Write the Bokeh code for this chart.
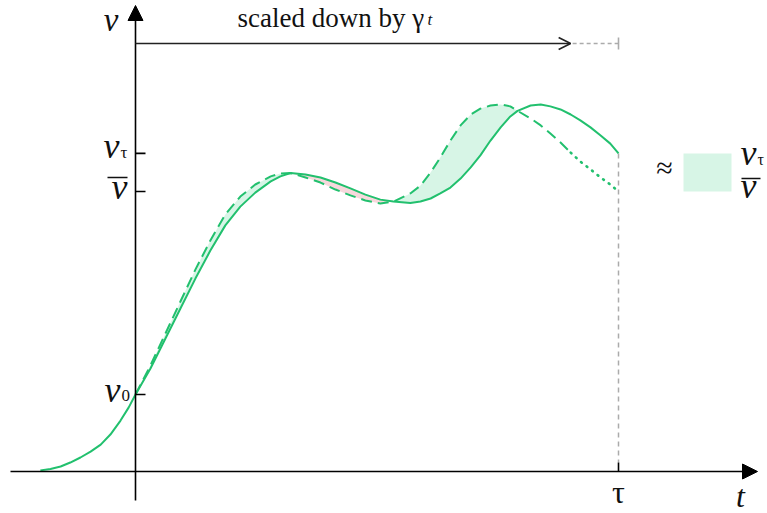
from bokeh.plotting import figure
from bokeh.models import Range1d, Arrow, NormalHead, OpenHead, Label
from bokeh.embed import file_html
from bokeh.resources import INLINE

# ---- data (t in units of tau, v in units of v_bar) ----
tau = 1.0
gamma = 1.11
v0 = 0.275
v_bar = 1.0
v_tau = 1.136

t_left = [-0.197, -0.176, -0.155, -0.135, -0.114, -0.093, -0.072, -0.052, -0.031, -0.014]
v_left = [0.004, 0.009, 0.018, 0.032, 0.050, 0.071, 0.096, 0.132, 0.182, 0.229]

t = [0.000, 0.031, 0.062, 0.093, 0.124, 0.155, 0.186, 0.217, 0.248, 0.280,
     0.300, 0.321, 0.352, 0.383, 0.414, 0.445, 0.476, 0.507, 0.534, 0.569,
     0.590, 0.611, 0.631, 0.652, 0.673, 0.694, 0.714, 0.735, 0.756, 0.776,
     0.791, 0.818, 0.839, 0.859, 0.880, 0.901, 0.921, 0.942, 0.963, 0.983,
     1.000]
v_actual = [0.275, 0.368, 0.475, 0.582, 0.689, 0.789, 0.879, 0.946, 0.996, 1.036,
            1.054, 1.066, 1.061, 1.050, 1.032, 1.011, 0.989, 0.971, 0.964, 0.959,
            0.964, 0.975, 0.993, 1.014, 1.046, 1.086, 1.129, 1.182, 1.229, 1.268,
            1.288, 1.307, 1.311, 1.304, 1.293, 1.275, 1.254, 1.229, 1.200, 1.171,
            1.136]
v_scaled = [0.275, 0.379, 0.493, 0.607, 0.721, 0.825, 0.918, 0.982, 1.025, 1.054,
            1.064, 1.066, 1.050, 1.032, 1.007, 0.986, 0.968, 0.957, 0.964, 0.993,
            1.021, 1.068, 1.121, 1.182, 1.236, 1.275, 1.296, 1.307, 1.311, 1.304,
            1.288, 1.261, 1.236, 1.207, 1.175, 1.139, 1.107, 1.079, 1.050, 1.025,
            1.000]

GREEN = "#22c06e"
FILL_G = "#d7f5e6"
FILL_P = "#f7d8dc"
GREY = "#ababab"
SERIF = "Liberation Serif"

PXT = 483.0   # pixels per t unit
PXV = 280.0   # pixels per v unit
W, H = 767, 513

p = figure(width=W, height=H, output_backend="svg", toolbar_location=None,
           x_range=Range1d(-135 / PXT, (W - 135) / PXT),
           y_range=Range1d(-(H - 471) / PXV, 471 / PXV),
           x_axis_type=None, y_axis_type=None, min_border=0)
p.outline_line_color = None
p.grid.visible = False
p.background_fill_color = "white"
p.border_fill_color = "white"

# ---- fills between the curves ----
cross = [i for i in range(len(t)) if v_actual[i] == v_scaled[i]]
for a, b in zip(cross[:-1], cross[1:]):
    xs = t[a:b + 1] + t[a:b + 1][::-1]
    ys = v_scaled[a:b + 1] + v_actual[a:b + 1][::-1]
    up = sum(v_scaled[a:b + 1]) > sum(v_actual[a:b + 1])
    p.patch(xs, ys, fill_color=FILL_G if up else FILL_P, line_color=None)

# ---- tau guide ----
p.segment(x0=[tau], y0=[v_tau], x1=[tau], y1=[9 / PXV], line_color=GREY,
          line_width=1.5, line_dash="5 4")
p.segment(x0=[tau], y0=[0], x1=[tau], y1=[9 / PXV], line_color="black", line_width=1.6)

# ---- curves ----
p.line(t_left + t, v_left + v_actual, line_color=GREEN, line_width=2)
k = t.index(0.901)
p.line(t[:k + 1], v_scaled[:k + 1], line_color=GREEN, line_width=2, line_dash="11 6")
p.line(t[k:], v_scaled[k:], line_color=GREEN, line_width=2.6, line_dash="1 6",
       line_cap="round")

# ---- axes ----
p.add_layout(Arrow(end=NormalHead(size=15, fill_color="black", line_color="black"),
                   x_start=-125 / PXT, y_start=0, x_end=622 / PXT, y_end=0,
                   line_width=1.6, line_color="black"))
p.add_layout(Arrow(end=NormalHead(size=15, fill_color="black", line_color="black"),
                   x_start=0, y_start=-29 / PXV, x_end=0, y_end=466 / PXV,
                   line_width=1.6, line_color="black"))
tick_len = 10 / PXT
for yv in [v0, v_bar, v_tau]:
    p.segment(x0=[0], y0=[yv], x1=[tick_len], y1=[yv], line_color="black", line_width=1.6)

# ---- scaled-down arrow ----
y_arrow = 428 / PXV
p.add_layout(Arrow(end=OpenHead(size=12, line_width=1.6, line_color="#222222"),
                   x_start=0, y_start=y_arrow, x_end=tau / gamma, y_end=y_arrow,
                   line_width=1.6, line_color="#222222"))
p.segment(x0=[tau / gamma + 2 / PXT], y0=[y_arrow], x1=[tau], y1=[y_arrow],
          line_color=GREY, line_width=1.6, line_dash="4 3")
p.segment(x0=[tau], y0=[y_arrow - 6 / PXV], x1=[tau], y1=[y_arrow + 6 / PXV],
          line_color=GREY, line_width=1.6)

# ---- legend box ----
p.quad(left=[tau + 65 / PXT], right=[tau + 113 / PXT], bottom=[v_bar], top=[v_tau],
       fill_color=FILL_G, line_color=None)


def lab(x, y, text, size, style="italic", align="left", xo=0, yo=0):
    # yo: offset of the baseline (px, up positive)
    p.add_layout(Label(x=x, y=y, text=text, text_font=SERIF, text_font_size=f"{size}px",
                       text_font_style=style, text_align=align, text_baseline="alphabetic",
                       x_offset=xo, y_offset=yo + 0.35 * size, text_color="#111111"))


def overline(x, y, xo0, xo1, yo):
    p.segment(x0=[x + xo0 / PXT], y0=[y + yo / PXV], x1=[x + xo1 / PXT], y1=[y + yo / PXV],
              line_color="#111111", line_width=1.5)


# axis labels
lab(0, 440 / PXV, "v", 33, align="right", xo=-17)
lab(605 / PXT, -36 / PXV, "t", 32, align="center")
lab(tau, -32 / PXV, "τ", 32, style="normal", align="center")

# tick labels
lab(0, v_tau, "v", 36, align="right", xo=-16, yo=-5)
lab(0, v_tau, "τ", 17, style="normal", align="left", xo=-15, yo=-5)
lab(0, v_bar, "v", 36, align="right", xo=-8, yo=-8)
overline(0, v_bar, -28, -8, 14)
lab(0, v0, "v", 36, align="right", xo=-15, yo=-8)
lab(0, v0, "0", 17, style="normal", align="left", xo=-14, yo=-7)

# top annotation
lab(102 / PXT, 444 / PXV, "scaled down by γ", 27, style="normal")
lab(292 / PXT, 446 / PXV, "t", 17)

# legend
lab(tau + 46 / PXT, 1.05, "≈", 30, style="normal", align="center")
lab(tau + 122 / PXT, v_tau, "v", 36, xo=0, yo=-12)
lab(tau + 122 / PXT, v_tau, "τ", 16, style="normal", xo=17, yo=-12)
lab(tau + 122 / PXT, v_bar, "v", 36, xo=0, yo=-7)
overline(tau + 122 / PXT, v_bar, 1, 20, 13)

open("out.html", "w").write(file_html(p, INLINE))
